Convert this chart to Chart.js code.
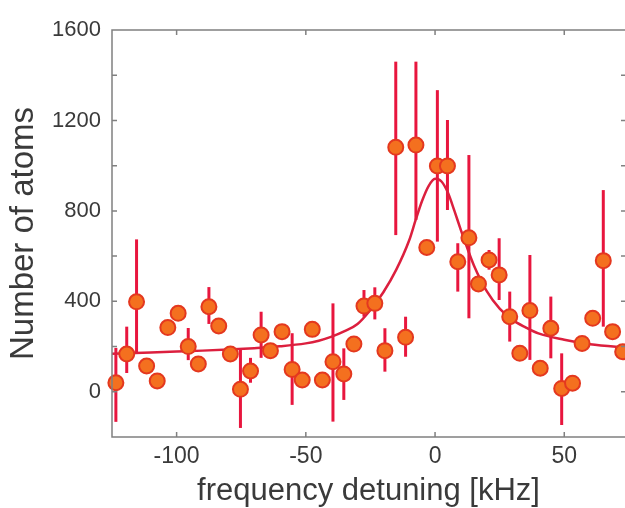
<!DOCTYPE html>
<html>
<head>
<meta charset="utf-8">
<title>Number of atoms vs frequency detuning</title>
<script src="https://cdn.jsdelivr.net/npm/chart.js@4.4.1/dist/chart.umd.min.js"></script>
<style>
  html, body { margin: 0; padding: 0; background: #fff; overflow: hidden; }
</style>
</head>
<body>
<canvas id="atomsChart" width="625" height="508"></canvas>
<script>
const detuning = [-123.5, -119.3, -115.5, -111.6, -107.5, -103.4, -99.4, -95.5, -91.6, -87.5,
                  -83.7, -79.2, -75.3, -71.4, -67.3, -63.7, -59.2, -55.3, -51.4, -47.5,
                  -43.6, -39.5, -35.3, -31.4, -27.5, -23.3, -19.4, -15.2, -11.4, -7.4,
                  -3.2, 0.9, 4.8, 8.8, 13.1, 16.8, 20.9, 24.8, 28.9, 32.8,
                  36.7, 40.7, 44.8, 49.0, 53.2, 56.9, 61.0, 65.1, 68.7, 72.6];
const atoms = [40, 167, 398, 114, 48, 284, 347, 200, 123, 376,
               291, 167, 11, 92, 251, 182, 266, 99, 52, 276,
               52, 133, 79, 211, 379, 391, 182, 1081, 241, 1091,
               638, 999, 999, 575, 681, 477, 583, 517, 332, 170,
               359, 104, 281, 15, 38, 214, 325, 580, 266, 177];
// error bar ends
const errLow = [-133, 83, 172, 84, 18, 254, 317, 140, 93, 300,
                261, 137, -160, 40, 150, 152, 236, -58, 22, 246,
                22, -132, -36, 181, 332, 320, 89, 693, 155, 760,
                608, 664, 804, 443, 325, 447, 540, 406, 222, 140,
                141, 74, 148, -147, 8, 184, 295, 288, 236, 147];
const errHigh = [194, 288, 674, 144, 78, 314, 377, 282, 153, 463,
                 321, 197, 185, 150, 354, 212, 296, 259, 82, 306,
                 82, 391, 192, 241, 450, 462, 281, 1460, 332, 1460,
                 668, 1334, 1202, 657, 1047, 507, 627, 679, 443, 200,
                 605, 134, 421, 170, 68, 244, 355, 892, 296, 207];

// fitted curve, sampled off the figure
const fitDetuning = [-125, -110, -100, -90, -80, -70, -60, -50, -45, -40, -35, -30, -25, -20, -15,
                     -10, -7.5, -5, -2.5, 0, 2.5, 5, 7.5, 10, 12.5, 15, 20, 25, 30, 35, 40, 50, 60, 75];
const fitAtoms = [168, 174, 178, 182, 187, 193, 201, 214, 226, 244, 268, 300, 362, 440, 540,
                  670, 760, 845, 910, 942, 930, 880, 800, 715, 635, 560, 445, 368, 318, 285, 258, 230, 210, 194];

const xTickValues = [-100, -50, 0, 50];
const yTickValues = [-200, 0, 200, 400, 600, 800, 1000, 1200, 1400, 1600];
const yLabelValues = [0, 400, 800, 1200, 1600];

const fontFamily = "'Liberation Sans', Arial, Helvetica, sans-serif";

// vertical error bars, drawn under the markers
const errorBars = {
    id: 'errorBars',
    beforeDatasetsDraw(chart) {
        const { ctx, scales: { x, y } } = chart;
        ctx.save();
        ctx.strokeStyle = '#e8163e';
        ctx.lineWidth = 3;
        detuning.forEach((d, i) => {
            const px = x.getPixelForValue(d);
            ctx.beginPath();
            ctx.moveTo(px, y.getPixelForValue(errLow[i]));
            ctx.lineTo(px, y.getPixelForValue(errHigh[i]));
            ctx.stroke();
        });
        ctx.restore();
    }
};

// frame (right edge falls just outside the picture) with inward ticks
const frameTicks = {
    id: 'frameTicks',
    afterDraw(chart) {
        const { ctx, chartArea: a, scales: { x, y } } = chart;
        ctx.save();
        ctx.strokeStyle = '#808080';
        ctx.lineWidth = 1.5;
        ctx.beginPath();
        ctx.moveTo(a.right + 2, a.top);
        ctx.lineTo(a.left, a.top);
        ctx.lineTo(a.left, a.bottom);
        ctx.lineTo(a.right + 2, a.bottom);
        xTickValues.forEach(v => {
            const px = x.getPixelForValue(v);
            ctx.moveTo(px, a.bottom); ctx.lineTo(px, a.bottom - 5);
            ctx.moveTo(px, a.top); ctx.lineTo(px, a.top + 5);
        });
        yTickValues.forEach(v => {
            const py = y.getPixelForValue(v);
            ctx.moveTo(a.left, py); ctx.lineTo(a.left + 5, py);
            ctx.moveTo(a.right + 1, py); ctx.lineTo(a.right - 4, py);
        });
        ctx.stroke();
        ctx.restore();
    }
};

const ctx = document.getElementById('atomsChart').getContext('2d');
new Chart(ctx, {
    data: {
        datasets: [
            {
                type: 'scatter',
                label: 'data',
                data: detuning.map((d, i) => ({ x: d, y: atoms[i] })),
                pointRadius: 7.5,
                pointBackgroundColor: '#f4701f',
                pointBorderColor: '#e4381f',
                pointBorderWidth: 2,
                clip: false,
                order: 0
            },
            {
                type: 'line',
                label: 'fit',
                data: fitDetuning.map((d, i) => ({ x: d, y: fitAtoms[i] })),
                borderColor: '#dc1f3e',
                borderWidth: 2.5,
                pointRadius: 0,
                fill: false,
                cubicInterpolationMode: 'monotone',
                order: 1
            }
        ]
    },
    options: {
        responsive: false,
        animation: false,
        devicePixelRatio: 1,
        layout: { autoPadding: false, padding: { left: 0, top: 30, right: 0, bottom: 0 } },
        plugins: {
            legend: { display: false },
            tooltip: { enabled: false }
        },
        scales: {
            x: {
                type: 'linear',
                position: 'bottom',
                min: -125,
                max: 73.5,
                afterFit: scale => { scale.height = 71; },
                afterBuildTicks: scale => { scale.ticks = xTickValues.map(v => ({ value: v })); },
                grid: { display: false, drawTicks: false },
                border: { display: false },
                ticks: {
                    padding: 6,
                    color: '#3a3a3a',
                    font: { family: fontFamily, size: 23 },
                    maxRotation: 0
                },
                title: {
                    display: true,
                    text: 'frequency detuning [kHz]',
                    color: '#3a3a3a',
                    font: { family: fontFamily, size: 31, lineHeight: 1 },
                    padding: { top: 0, bottom: 1 }
                }
            },
            y: {
                type: 'linear',
                min: -200,
                max: 1600,
                afterFit: scale => { scale.width = 112; },
                afterBuildTicks: scale => { scale.ticks = yTickValues.map(v => ({ value: v })); },
                grid: { display: false, drawTicks: false },
                border: { display: false },
                ticks: {
                    padding: 11,
                    color: '#3a3a3a',
                    font: { family: fontFamily, size: 22 },
                    callback: v => yLabelValues.includes(v) ? String(v) : ''
                },
                title: {
                    display: true,
                    text: 'Number of atoms',
                    color: '#3a3a3a',
                    font: { family: fontFamily, size: 33, lineHeight: 1.2 },
                    padding: { top: 4, bottom: 0 }
                }
            }
        }
    },
    plugins: [errorBars, frameTicks]
});
</script>
</body>
</html>
